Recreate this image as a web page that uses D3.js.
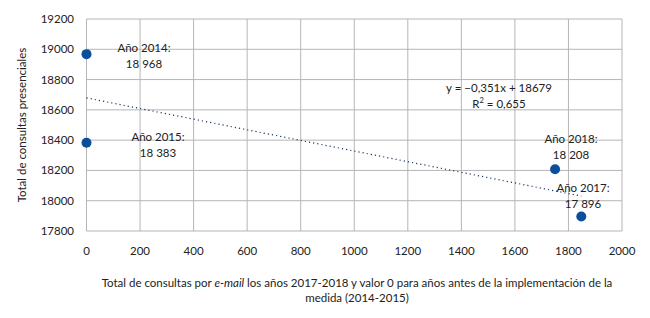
<!DOCTYPE html>
<html><head><meta charset="utf-8">
<script src="https://cdn.jsdelivr.net/npm/d3@7"></script>
<style>body{margin:0;background:#fff}svg{display:block}text{font-family:Lato,"Open Sans",sans-serif;fill:#222}</style>
</head><body><svg id="c" width="650" height="318"></svg>
<script>
const years = ["2014","2015","2018","2017"];
const emailX = [0, 0, 1750, 1848];
const presenciales = [18968, 18383, 18208, 17896];
const labelVals = ["18 968","18 383","18 208","17 896"];
const xTicks = [0,200,400,600,800,1000,1200,1400,1600,1800,2000];
const yTicks = [17800,18000,18200,18400,18600,18800,19000,19200];
const slope = -0.351, intercept = 18679;
const eqText = "y = −0,351x + 18679";
const r2Text = "0,655";

const svg = d3.select("#c");
const x = d3.scaleLinear().domain([0,2000]).range([86.5,622]);
const y = d3.scaleLinear().domain([17800,19200]).range([231,19]);

const g = svg.append("g");
// grid
g.selectAll(".vg").data(xTicks).join("line")
 .attr("x1",d=>x(d)).attr("x2",d=>x(d)).attr("y1",y(19200)).attr("y2",y(17800))
 .attr("stroke","#b5b5b5").attr("stroke-width",1);
g.selectAll(".hg").data(yTicks).join("line")
 .attr("x1",x(0)).attr("x2",x(2000)).attr("y1",d=>y(d)).attr("y2",d=>y(d))
 .attr("stroke","#b5b5b5").attr("stroke-width",1);

// tick labels
g.selectAll(".xt").data(xTicks).join("text")
 .attr("x",d=>x(d)).attr("y",255).attr("text-anchor","middle")
 .attr("font-size",11.5).text(d=>d);
g.selectAll(".yt").data(yTicks).join("text")
 .attr("x",74).attr("y",d=>y(d)+4).attr("text-anchor","end")
 .attr("font-size",11.5).text(d=>d);

// trendline
const xmax = d3.max(emailX);
g.append("line")
 .attr("x1",x(0)).attr("y1",y(intercept))
 .attr("x2",x(xmax)).attr("y2",y(slope*xmax+intercept))
 .attr("stroke","#1f3864").attr("stroke-width",1.2).attr("stroke-dasharray","1.2,3");

// points
g.selectAll(".pt").data(emailX).join("circle")
 .attr("cx",d=>x(d)).attr("cy",(d,i)=>y(presenciales[i])).attr("r",5)
 .attr("fill","#0a4f9c");

// labels
const lab = [[144,48],[158,137],[571,139],[583,188]];
years.forEach((yr,i)=>{
  const t = g.append("text").attr("text-anchor","middle").attr("font-size",11.5);
  t.append("tspan").attr("x",lab[i][0]).attr("y",lab[i][1]+4).text("Año "+yr+":");
  t.append("tspan").attr("x",lab[i][0]).attr("y",lab[i][1]+20).text(labelVals[i]);
});

// equation
g.append("text").attr("x",499).attr("y",92).attr("text-anchor","middle").attr("font-size",11.5).text(eqText);
const r = g.append("text").attr("x",499).attr("y",108).attr("text-anchor","middle").attr("font-size",11.5);
r.append("tspan").text("R");
r.append("tspan").attr("font-size",7.5).attr("dy",-5).text("2");
r.append("tspan").attr("dy",5).text(" = "+r2Text);

// axis titles
svg.append("text").attr("transform","translate(26,125) rotate(-90)").attr("text-anchor","middle")
 .attr("font-size",11.5).text("Total de consultas presenciales");
const xt = svg.append("text").attr("x",357).attr("y",287).attr("text-anchor","middle").attr("font-size",11.5);
xt.append("tspan").text("Total de consultas por ");
xt.append("tspan").attr("font-style","italic").text("e-mail");
xt.append("tspan").text(" los años 2017-2018 y valor 0 para años antes de la implementación de la");
svg.append("text").attr("x",357).attr("y",302).attr("text-anchor","middle").attr("font-size",11.5).text("medida (2014-2015)");
</script></body></html>
